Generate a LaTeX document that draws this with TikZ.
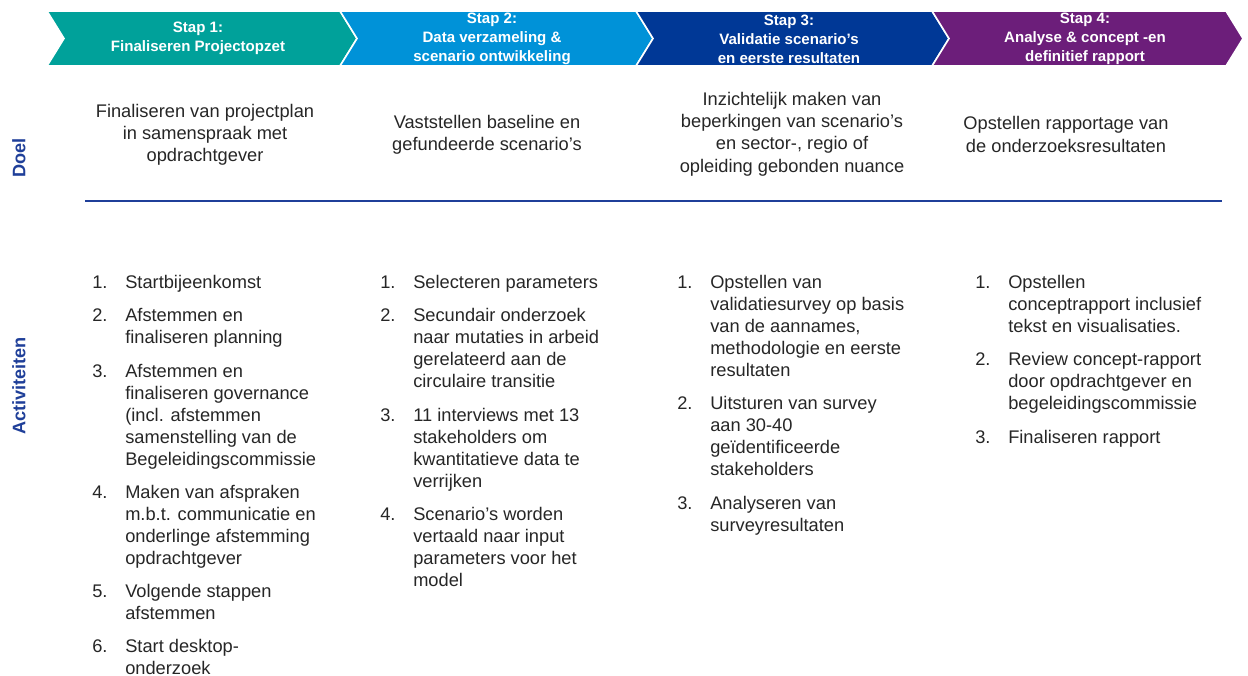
\documentclass[tikz,border=0pt]{standalone}
\usepackage{fontspec}
\setmainfont{Liberation Sans}
\usetikzlibrary{positioning}
\definecolor{stapteal}{RGB}{0,161,154}
\definecolor{stapblue}{RGB}{0,146,216}
\definecolor{stapnavy}{RGB}{0,56,150}
\definecolor{stappurple}{RGB}{108,30,122}
\definecolor{labelblue}{RGB}{31,63,153}
\definecolor{bodygray}{RGB}{38,38,38}

\begin{document}
\begin{tikzpicture}[x=0.75pt,y=-0.75pt]
      \tikzstyle{chevron}=[draw=white,line width=1.2pt,line join=miter]
      \tikzstyle{stapkop}=[text=white,font=\fontsize{11.3}{14.25}\selectfont\bfseries,align=center]
      \tikzstyle{doel}=[text=bodygray,font=\fontsize{13.7}{16.65}\selectfont,align=center]
      \tikzstyle{item}=[text=bodygray,font=\fontsize{13.7}{16.5}\selectfont,inner sep=0pt,anchor=north west]
      \tikzstyle{rijlabel}=[text=labelblue,font=\fontsize{13.6}{16}\selectfont\bfseries,rotate=90]
      \useasboundingbox (0,0) rectangle (1248,675);

      % stappen
      \fill[stapteal,chevron] (47,11) -- (340,11) -- (357,38.5) -- (340,66) -- (47,66) -- (64,38.5) -- cycle;
      \fill[stapblue,chevron] (340,11) -- (636,11) -- (653,38.5) -- (636,66) -- (340,66) -- (357,38.5) -- cycle;
      \fill[stapnavy,chevron] (636,11) -- (932,11) -- (949,38.5) -- (932,66) -- (636,66) -- (653,38.5) -- cycle;
      \fill[stappurple,chevron] (932,11) -- (1226,11) -- (1243,38.5) -- (1226,66) -- (932,66) -- (949,38.5) -- cycle;

      \node[stapkop] (s1) at (198,38.5) {Stap 1:\\Finaliseren Projectopzet};
      \node[stapkop] (s2) at (492,39) {Stap 2:\\Data verzameling \&\\scenario ontwikkeling};
      \node[stapkop] (s3) at (789,39) {Stap 3:\\Validatie scenario’s\\en eerste resultaten};
      \node[stapkop] (s4) at (1085,39) {Stap 4:\\Analyse \& concept -en\\definitief rapport};

      % doel
      \node[rijlabel] (ldoel) at (19,158) {Doel};
      \node[doel] (d1) at (205,134.5) {Finaliseren van projectplan\\in samenspraak met\\opdrachtgever};
      \node[doel] (d2) at (487,134.5) {Vaststellen baseline en\\gefundeerde scenario’s};
      \node[doel] (d3) at (792,134) {Inzichtelijk maken van\\beperkingen van scenario’s\\en sector-, regio of\\opleiding gebonden nuance};
      \node[doel] (d4) at (1066,134.5) {Opstellen rapportage van\\de onderzoeksresultaten};

      \coordinate (lijnL) at (85,201);
      \coordinate (lijnR) at (1222,201);
      \draw[labelblue,line width=1.5pt] (lijnL) -- (lijnR);

      % activiteiten
      \node[rijlabel] (lact) at (19,386) {Activiteiten};

      \node[item] (a1) at (92,273) {\begin{tabular}{@{}p{24.75pt}@{}l@{}}1. & Startbijeenkomst\end{tabular}};
      \node[item,below right=8pt and 0pt of a1.south west] (a2) {\begin{tabular}{@{}p{24.75pt}@{}l@{}}2. & Afstemmen en\\ & finaliseren planning\end{tabular}};
      \node[item,below right=8pt and 0pt of a2.south west] (a3) {\begin{tabular}{@{}p{24.75pt}@{}l@{}}3. & Afstemmen en\\ & finaliseren governance\\ & (incl. afstemmen\\ & samenstelling van de\\ & Begeleidingscommissie\end{tabular}};
      \node[item,below right=8pt and 0pt of a3.south west] (a4) {\begin{tabular}{@{}p{24.75pt}@{}l@{}}4. & Maken van afspraken\\ & m.b.t. communicatie en\\ & onderlinge afstemming\\ & opdrachtgever\end{tabular}};
      \node[item,below right=8pt and 0pt of a4.south west] (a5) {\begin{tabular}{@{}p{24.75pt}@{}l@{}}5. & Volgende stappen\\ & afstemmen\end{tabular}};
      \node[item,below right=8pt and 0pt of a5.south west] (a6) {\begin{tabular}{@{}p{24.75pt}@{}l@{}}6. & Start desktop-\\ & onderzoek\end{tabular}};

      \node[item] (b1) at (380,273) {\begin{tabular}{@{}p{24.75pt}@{}l@{}}1. & Selecteren parameters\end{tabular}};
      \node[item,below right=8pt and 0pt of b1.south west] (b2) {\begin{tabular}{@{}p{24.75pt}@{}l@{}}2. & Secundair onderzoek\\ & naar mutaties in arbeid\\ & gerelateerd aan de\\ & circulaire transitie\end{tabular}};
      \node[item,below right=8pt and 0pt of b2.south west] (b3) {\begin{tabular}{@{}p{24.75pt}@{}l@{}}3. & 11 interviews met 13\\ & stakeholders om\\ & kwantitatieve data te\\ & verrijken\end{tabular}};
      \node[item,below right=8pt and 0pt of b3.south west] (b4) {\begin{tabular}{@{}p{24.75pt}@{}l@{}}4. & Scenario’s worden\\ & vertaald naar input\\ & parameters voor het\\ & model\end{tabular}};

      \node[item] (c1) at (677,273) {\begin{tabular}{@{}p{24.75pt}@{}l@{}}1. & Opstellen van\\ & validatiesurvey op basis\\ & van de aannames,\\ & methodologie en eerste\\ & resultaten\end{tabular}};
      \node[item,below right=8pt and 0pt of c1.south west] (c2) {\begin{tabular}{@{}p{24.75pt}@{}l@{}}2. & Uitsturen van survey\\ & aan 30-40\\ & geïdentificeerde\\ & stakeholders\end{tabular}};
      \node[item,below right=8pt and 0pt of c2.south west] (c3) {\begin{tabular}{@{}p{24.75pt}@{}l@{}}3. & Analyseren van\\ & surveyresultaten\end{tabular}};

      \node[item] (e1) at (975,273) {\begin{tabular}{@{}p{24.75pt}@{}l@{}}1. & Opstellen\\ & conceptrapport inclusief\\ & tekst en visualisaties.\end{tabular}};
      \node[item,below right=8pt and 0pt of e1.south west] (e2) {\begin{tabular}{@{}p{24.75pt}@{}l@{}}2. & Review concept-rapport\\ & door opdrachtgever en\\ & begeleidingscommissie\end{tabular}};
      \node[item,below right=8pt and 0pt of e2.south west] (e3) {\begin{tabular}{@{}p{24.75pt}@{}l@{}}3. & Finaliseren rapport\end{tabular}};
\end{tikzpicture}
\end{document}
